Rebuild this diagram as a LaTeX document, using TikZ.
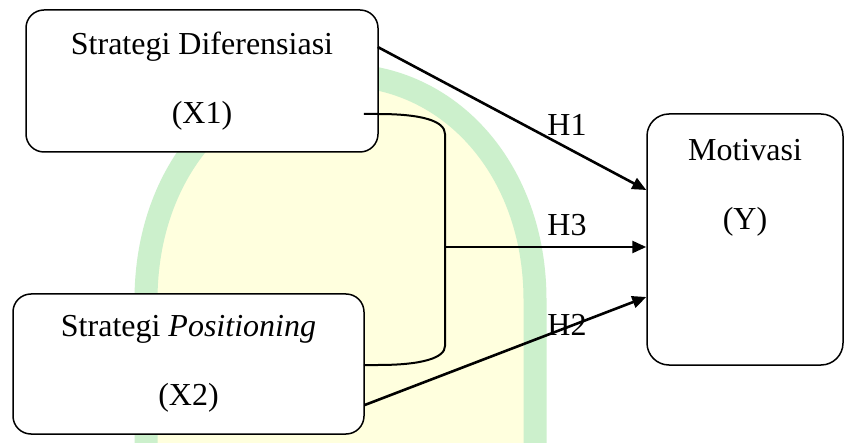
\documentclass[tikz,border=0pt]{standalone}
\usepackage{fontspec}
\setmainfont{Liberation Serif}
\usepackage{tikz}
\usetikzlibrary{arrows.meta,positioning}
\definecolor{logogreen}{RGB}{204,240,204}
\definecolor{logoyellow}{RGB}{255,255,222}

\begin{document}
\begin{tikzpicture}[x=1pt, y=-1pt]
% STYLES
\tikzset{%
    factorbox/.style={%
        rectangle, rounded corners=18pt, draw, line width=1.5pt, fill=white,
        align=center, inner sep=0pt, font=\fontsize{32}{69}\selectfont
    },
    factortext/.style={align=center, inner sep=0pt, font=\fontsize{32}{69}\selectfont},
    hyp/.style={inner sep=0pt, font=\fontsize{32}{38}\selectfont},
    link/.style={line width=2pt},
    effect/.style={line width=2.6pt, -{Triangle[length=14pt,width=12pt]}}
}
% Background and logo
\fill[white] (0,0) rectangle (845,443);
\useasboundingbox (0,0) rectangle (845,443);
\draw[logogreen, fill=logoyellow, line width=23pt]
    (146,460) -- (146,300) .. controls (146,170) and (230,75) .. (340,75)
    .. controls (450,75) and (535,170) .. (535,300) -- (535,460) -- cycle;
% Draw factors
\node [factorbox, minimum width=352pt, minimum height=142pt] (x1) at (202,81) {Strategi Diferensiasi\\(X1)};
\node [factorbox, minimum width=351pt, minimum height=140pt] (x2) at (188.5,364) {Strategi \textit{Positioning}\\(X2)};
\node [factorbox, rounded corners=22pt, minimum width=196pt, minimum height=251pt] (motivasi) at (745,239.5) {};
\node [factortext, below=26pt of motivasi.north] (motivasitext) {Motivasi\\(Y)};
% Hypotheses
\node [hyp] (h1) at (567,125) {H1};
\node [hyp] (h3) at (567,225) {H3};
\node [hyp] (h2) at (567,325) {H2};
% Draw the links
\coordinate (h1start) at ([shift={(-1,-34)}]x1.east);
\coordinate (join) at (445,247);
\draw[link] ([shift={(-15,33)}]x1.east) -- (378,114)
    .. controls (422,114) and (445,121) .. (445,134) -- (445,346)
    .. controls (445,358) and (422,365) .. (378,365) -- ([shift={(-1,1)}]x2.east);
\draw[effect] (h1start) -- ([yshift=49.5pt]motivasi.west);
\draw[effect] (join) -- ([yshift=-7.5pt]motivasi.west);
\draw[effect] ([shift={(0,41)}]x2.east) -- ([yshift=-57.5pt]motivasi.west);
\end{tikzpicture}
\end{document}
